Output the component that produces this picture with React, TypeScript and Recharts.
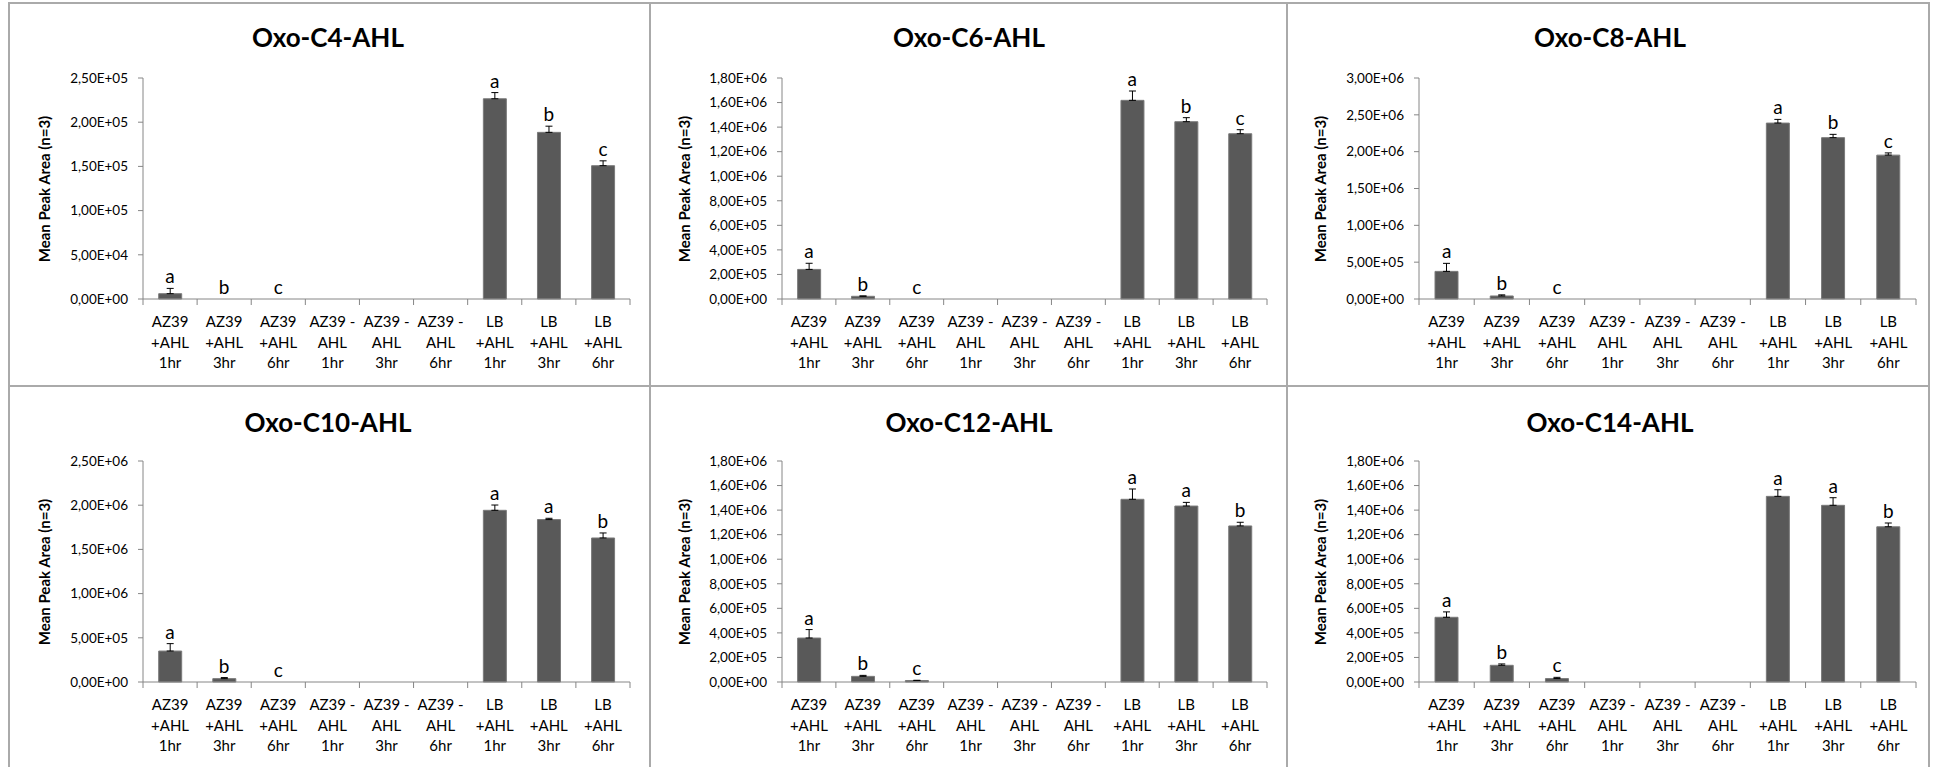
import React from 'react';
import { ComposedChart, Bar, Line, XAxis, YAxis, ErrorBar, LabelList } from 'recharts';

// shared x categories + the three-line tick text Excel shows under each bar
const categories = [
  'AZ39 +AHL 1hr', 'AZ39 +AHL 3hr', 'AZ39 +AHL 6hr',
  'AZ39 -AHL 1hr', 'AZ39 -AHL 3hr', 'AZ39 -AHL 6hr',
  'LB +AHL 1hr', 'LB +AHL 3hr', 'LB +AHL 6hr',
];
const tickLine1 = ['AZ39', 'AZ39', 'AZ39', 'AZ39 -', 'AZ39 -', 'AZ39 -', 'LB', 'LB', 'LB'];
const tickLine2 = ['+AHL', '+AHL', '+AHL', 'AHL', 'AHL', 'AHL', '+AHL', '+AHL', '+AHL'];
const tickLine3 = ['1hr', '3hr', '6hr', '1hr', '3hr', '6hr', '1hr', '3hr', '6hr'];

const c4Values = [6000, 0, 0, 0, 0, 0, 226500, 188500, 150800];
const c4Errors = [6000, 0, 0, 0, 0, 0, 7000, 7000, 5500];
const c4Letters = ['a', 'b', 'c', '', '', '', 'a', 'b', 'c'];
const c4Ticks = [0, 50000, 100000, 150000, 200000, 250000];

const c6Values = [241000, 22000, 0, 0, 0, 0, 1618000, 1444000, 1346000];
const c6Errors = [50000, 3000, 0, 0, 0, 0, 76000, 33000, 33000];
const c6Letters = ['a', 'b', 'c', '', '', '', 'a', 'b', 'c'];
const c6Ticks = [0, 200000, 400000, 600000, 800000, 1000000, 1200000, 1400000, 1600000, 1800000];

const c8Values = [375000, 41000, 0, 0, 0, 0, 2388000, 2190000, 1953000];
const c8Errors = [109000, 15000, 0, 0, 0, 0, 50000, 45000, 30000];
const c8Letters = ['a', 'b', 'c', '', '', '', 'a', 'b', 'c'];
const c8Ticks = [0, 500000, 1000000, 1500000, 2000000, 2500000, 3000000];

const c10Values = [350000, 38000, 0, 0, 0, 0, 1942000, 1837000, 1629000];
const c10Errors = [84000, 12000, 0, 0, 0, 0, 60000, 15000, 57000];
const c10Letters = ['a', 'b', 'c', '', '', '', 'a', 'a', 'b'];
const c10Ticks = [0, 500000, 1000000, 1500000, 2000000, 2500000];

const c12Values = [358000, 46000, 12000, 0, 0, 0, 1488000, 1433000, 1271000];
const c12Errors = [69000, 8000, 2000, 0, 0, 0, 84000, 30000, 30000];
const c12Letters = ['a', 'b', 'c', '', '', '', 'a', 'a', 'b'];
const c12Ticks = [0, 200000, 400000, 600000, 800000, 1000000, 1200000, 1400000, 1600000, 1800000];

const c14Values = [527000, 136000, 28000, 0, 0, 0, 1512000, 1439000, 1264000];
const c14Errors = [44000, 11000, 10000, 0, 0, 0, 54000, 62000, 31000];
const c14Letters = ['a', 'b', 'c', '', '', '', 'a', 'a', 'b'];
const c14Ticks = [0, 200000, 400000, 600000, 800000, 1000000, 1200000, 1400000, 1600000, 1800000];

const FONT = 'Lato, "Open Sans", sans-serif';
const AXIS = '#868686';
const FRAME = '#aaaaaa';
const BAR = '#595959';
const Y_W = 70;
const X_H = 70;

// page layout of the 3x2 grid of excel charts
const cols = [
  { left: 9, width: 641, plotLeft: 143, plotRight: 630, titleX: 328, labelX: 44 },
  { left: 650, width: 637, plotLeft: 782, plotRight: 1267, titleX: 969, labelX: 684 },
  { left: 1287, width: 642, plotLeft: 1419, plotRight: 1916, titleX: 1610, labelX: 1320 },
];
const rows = [
  { top: 3, height: 383, plotTop: 78, plotBottom: 299, titleY: 37 },
  { top: 386, height: 381, plotTop: 461, plotBottom: 682, titleY: 422 },
];

// 250000 -> "2,50E+05"
const fmtSci = (v: number) => {
  const [m, e] = v.toExponential(2).split('e');
  const sign = e[0] === '-' ? '-' : '+';
  const exp = e.replace(/[+-]/, '').padStart(2, '0');
  return `${m.replace('.', ',')}E${sign}${exp}`;
};

const CategoryTick = (props: any) => {
  const { x, y, payload, bw } = props;
  const i = categories.indexOf(payload.value);
  const last = i === categories.length - 1;
  return (
    <g>
      <line x1={x - bw / 2} y1={y} x2={x - bw / 2} y2={y + 6} stroke={AXIS} strokeWidth={1} />
      {last && <line x1={x + bw / 2} y1={y} x2={x + bw / 2} y2={y + 6} stroke={AXIS} strokeWidth={1} />}
      <text x={x} y={y} textAnchor="middle" fontFamily={FONT} fontSize={15} fill="#000">
        <tspan x={x} dy={28}>{tickLine1[i]}</tspan>
        <tspan x={x} dy={20.5}>{tickLine2[i]}</tspan>
        <tspan x={x} dy={20.5}>{tickLine3[i]}</tspan>
      </text>
    </g>
  );
};

interface PanelProps {
  title: string;
  values: number[];
  errors: number[];
  letters: string[];
  ticks: number[];
  col: typeof cols[number];
  row: typeof rows[number];
}

const Panel: React.FC<PanelProps> = ({ title, values, errors, letters, ticks, col, row }) => {
  const data = categories.map((name, i) => ({
    name,
    value: values[i],
    err: errors[i],
    top: values[i] + errors[i],
    letter: letters[i],
  }));
  const bw = (col.plotRight - col.plotLeft) / categories.length;
  const margin = {
    top: row.plotTop - row.top,
    bottom: row.top + row.height - row.plotBottom - X_H,
    left: col.plotLeft - col.left - Y_W,
    right: col.left + col.width - col.plotRight,
  };

  return (
    <>
      <div style={{ position: 'absolute', left: col.left, top: row.top }}>
        <ComposedChart width={col.width} height={row.height} data={data} margin={margin} barCategoryGap="29%">
          <XAxis
            dataKey="name"
            interval={0}
            height={X_H}
            tickSize={0}
            tickMargin={0}
            axisLine={{ stroke: AXIS }}
            tick={(p: any) => <CategoryTick {...p} bw={bw} />}
          />
          <YAxis
            width={Y_W}
            domain={[0, ticks[ticks.length - 1]]}
            ticks={ticks}
            interval={0}
            tickFormatter={fmtSci}
            tickSize={5}
            tickMargin={10}
            axisLine={{ stroke: AXIS }}
            tickLine={{ stroke: AXIS }}
            tick={{ fontSize: 13.5, fill: '#000', fontFamily: FONT }}
          />
          <Bar dataKey="value" fill={BAR} stroke="#7a7a7a" strokeWidth={1} isAnimationActive={false}>
            <ErrorBar
              dataKey={(d: any) => (d.err > 0 ? [0, d.err] : null)}
              direction="y"
              width={3.5}
              stroke="#000"
              strokeWidth={1}
              isAnimationActive={false}
            />
          </Bar>
          <Line
            dataKey="top"
            stroke="none"
            dot={false}
            activeDot={false}
            legendType="none"
            isAnimationActive={false}
          >
            <LabelList dataKey="letter" position="top" offset={5} fill="#000" fontSize={19} fontFamily={FONT} />
          </Line>
        </ComposedChart>
      </div>
      <div
        style={{
          position: 'absolute', left: col.titleX - 200, top: row.titleY - 16, width: 400,
          lineHeight: '32px', textAlign: 'center', fontFamily: FONT, fontWeight: 700, fontSize: 26, color: '#000',
        }}
      >
        {title}
      </div>
      <div
        style={{
          position: 'absolute', left: col.labelX - 150, top: (row.plotTop + row.plotBottom) / 2 - 10,
          width: 300, height: 20, lineHeight: '20px', textAlign: 'center', fontFamily: FONT,
          fontWeight: 700, fontSize: 15, color: '#000', transform: 'rotate(-90deg)',
        }}
      >
        Mean Peak Area (n=3)
      </div>
    </>
  );
};

export default function App() {
  const vLines = [9, 650, 1287, 1929];
  const hLines = [3, 386];
  return (
    <div style={{ position: 'absolute', left: 0, top: 0, width: 1933, height: 767, background: '#fff', overflow: 'hidden' }}>
      <Panel title="Oxo-C4-AHL" values={c4Values} errors={c4Errors} letters={c4Letters} ticks={c4Ticks} col={cols[0]} row={rows[0]} />
      <Panel title="Oxo-C6-AHL" values={c6Values} errors={c6Errors} letters={c6Letters} ticks={c6Ticks} col={cols[1]} row={rows[0]} />
      <Panel title="Oxo-C8-AHL" values={c8Values} errors={c8Errors} letters={c8Letters} ticks={c8Ticks} col={cols[2]} row={rows[0]} />
      <Panel title="Oxo-C10-AHL" values={c10Values} errors={c10Errors} letters={c10Letters} ticks={c10Ticks} col={cols[0]} row={rows[1]} />
      <Panel title="Oxo-C12-AHL" values={c12Values} errors={c12Errors} letters={c12Letters} ticks={c12Ticks} col={cols[1]} row={rows[1]} />
      <Panel title="Oxo-C14-AHL" values={c14Values} errors={c14Errors} letters={c14Letters} ticks={c14Ticks} col={cols[2]} row={rows[1]} />
      {vLines.map((x) => (
        <div key={'v' + x} style={{ position: 'absolute', left: x - 1, top: 2, width: 2, height: 767, background: FRAME }} />
      ))}
      {hLines.map((y) => (
        <div key={'h' + y} style={{ position: 'absolute', left: 8, top: y - 1, width: 1922, height: 2, background: FRAME }} />
      ))}
    </div>
  );
}
